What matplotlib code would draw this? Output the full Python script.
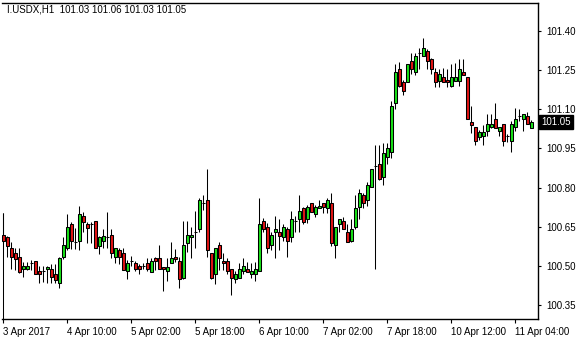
import matplotlib
matplotlib.use("Agg")
import matplotlib.pyplot as plt
from matplotlib.patches import Rectangle
from matplotlib.transforms import blended_transform_factory

# ---------------- data ----------------
opens = [100.619, 100.611, 100.569, 100.550, 100.534, 100.488, 100.488, 100.511, 100.519, 100.480,
         100.480, 100.488, 100.488, 100.469, 100.435, 100.534, 100.569, 100.661, 100.592, 100.596,
         100.691, 100.661, 100.661, 100.672, 100.576, 100.596, 100.611, 100.619, 100.534, 100.561,
         100.550, 100.480, 100.519, 100.511, 100.500, 100.500, 100.511, 100.477, 100.530, 100.530,
         100.496, 100.480, 100.511, 100.534, 100.519, 100.454, 100.588, 100.611, 100.630, 100.642,
         100.741, 100.753, 100.550, 100.469, 100.580, 100.519, 100.519, 100.488, 100.450, 100.454,
         100.480, 100.488, 100.469, 100.469, 100.480, 100.672, 100.649, 100.580, 100.630, 100.630,
         100.611, 100.642, 100.611, 100.672, 100.680, 100.722, 100.680, 100.741, 100.699, 100.722,
         100.741, 100.722, 100.741, 100.580, 100.661, 100.672, 100.630, 100.596, 100.649, 100.726,
         100.772, 100.753, 100.802, 100.883, 100.890, 100.841, 100.917, 100.936, 101.124, 101.254,
         101.205, 101.205, 101.285, 101.243, 101.316, 101.304, 101.323, 101.293, 101.243, 101.208,
         101.224, 101.212, 101.189, 101.208, 101.208, 101.243, 101.224, 101.051, 101.032, 100.994,
         100.998, 101.017, 101.032, 101.063, 101.017, 101.044, 100.998, 100.979, 101.032, 101.074,
         101.063, 101.074, 101.03]
highs = [100.703, 100.615, 100.592, 100.569, 100.569, 100.515, 100.515, 100.523, 100.519, 100.500,
         100.500, 100.500, 100.507, 100.507, 100.534, 100.611, 100.699, 100.668, 100.645, 100.730,
         100.707, 100.668, 100.668, 100.672, 100.615, 100.642, 100.707, 100.642, 100.569, 100.569,
         100.569, 100.523, 100.538, 100.519, 100.507, 100.511, 100.530, 100.530, 100.534, 100.580,
         100.496, 100.530, 100.592, 100.565, 100.534, 100.672, 100.672, 100.649, 100.711, 100.760,
         100.772, 100.871, 100.550, 100.569, 100.592, 100.550, 100.530, 100.488, 100.480, 100.511,
         100.530, 100.515, 100.511, 100.515, 100.760, 100.684, 100.665, 100.630, 100.691, 100.680,
         100.661, 100.649, 100.711, 100.691, 100.772, 100.726, 100.734, 100.741, 100.734, 100.753,
         100.741, 100.760, 100.779, 100.649, 100.680, 100.687, 100.661, 100.680, 100.772, 100.795,
         100.779, 100.822, 100.871, 100.963, 100.963, 100.971, 100.971, 101.132, 101.274, 101.281,
         101.212, 101.274, 101.316, 101.316, 101.335, 101.373, 101.331, 101.297, 101.258, 101.254,
         101.258, 101.254, 101.274, 101.277, 101.293, 101.293, 101.224, 101.113, 101.032, 101.021,
         101.040, 101.082, 101.082, 101.124, 101.032, 101.044, 101.005, 101.055, 101.105, 101.101,
         101.082, 101.090, 101.06]
lows = [100.588, 100.534, 100.488, 100.484, 100.473, 100.458, 100.484, 100.484, 100.469, 100.435,
        100.439, 100.435, 100.435, 100.435, 100.416, 100.527, 100.561, 100.565, 100.565, 100.561,
        100.630, 100.588, 100.588, 100.569, 100.546, 100.569, 100.569, 100.530, 100.511, 100.507,
        100.484, 100.450, 100.500, 100.480, 100.469, 100.488, 100.480, 100.477, 100.484, 100.488,
        100.404, 100.442, 100.511, 100.515, 100.416, 100.450, 100.553, 100.530, 100.569, 100.630,
        100.714, 100.534, 100.450, 100.431, 100.484, 100.484, 100.469, 100.389, 100.435, 100.454,
        100.469, 100.477, 100.454, 100.442, 100.480, 100.630, 100.550, 100.561, 100.530, 100.561,
        100.596, 100.534, 100.592, 100.630, 100.630, 100.661, 100.665, 100.707, 100.687, 100.722,
        100.703, 100.703, 100.576, 100.530, 100.630, 100.642, 100.592, 100.592, 100.642, 100.680,
        100.722, 100.730, 100.802, 100.488, 100.829, 100.810, 100.890, 100.913, 101.101, 101.186,
        101.155, 101.205, 101.235, 101.231, 101.254, 101.304, 101.254, 101.235, 101.186, 101.186,
        101.205, 101.186, 101.186, 101.208, 101.189, 101.231, 101.063, 101.009, 100.963, 100.982,
        100.963, 100.998, 101.028, 101.028, 100.998, 100.959, 100.975, 100.936, 101.017, 101.055,
        101.017, 101.044, 101.03]
closes = [100.596, 100.576, 100.534, 100.527, 100.477, 100.500, 100.500, 100.511, 100.469, 100.469,
          100.480, 100.496, 100.458, 100.446, 100.530, 100.580, 100.649, 100.596, 100.592, 100.699,
          100.668, 100.645, 100.661, 100.569, 100.611, 100.615, 100.611, 100.550, 100.569, 100.534,
          100.484, 100.511, 100.519, 100.488, 100.488, 100.500, 100.488, 100.519, 100.519, 100.488,
          100.488, 100.496, 100.530, 100.527, 100.450, 100.580, 100.619, 100.619, 100.630, 100.753,
          100.741, 100.561, 100.454, 100.569, 100.530, 100.511, 100.480, 100.454, 100.469, 100.488,
          100.500, 100.477, 100.480, 100.488, 100.661, 100.642, 100.569, 100.619, 100.642, 100.615,
          100.649, 100.596, 100.680, 100.672, 100.711, 100.668, 100.726, 100.707, 100.726, 100.730,
          100.726, 100.753, 100.588, 100.649, 100.680, 100.642, 100.592, 100.642, 100.722, 100.779,
          100.741, 100.810, 100.871, 100.883, 100.833, 100.933, 100.952, 101.113, 101.243, 101.189,
          101.170, 101.274, 101.254, 101.304, 101.316, 101.335, 101.285, 101.254, 101.205, 101.235,
          101.205, 101.205, 101.224, 101.224, 101.254, 101.231, 101.063, 101.040, 100.979, 101.013,
          101.013, 101.044, 101.044, 101.028, 101.032, 100.979, 100.998, 101.044, 101.063, 101.074,
          101.082, 101.044, 101.05]

time_labels = ["3 Apr 2017", "4 Apr 10:00", "5 Apr 02:00", "5 Apr 18:00", "6 Apr 10:00",
               "7 Apr 02:00", "7 Apr 18:00", "10 Apr 12:00", "11 Apr 04:00"]
price_ticks = [100.35, 100.50, 100.65, 100.80, 100.95, 101.10, 101.25, 101.40]
symbol = "I.USDX,H1"
last_price = 101.05

# ---------------- layout ----------------
W, H = 580, 340
FONT = ["Liberation Sans", "DejaVu Sans"]
plt.rcParams["font.family"] = FONT
fig = plt.figure(figsize=(W / 100, H / 100), dpi=100)
fig.patch.set_facecolor("white")

ax_left, ax_right, ax_top, ax_bottom = 2, 538, 3, 319
ax = fig.add_axes([ax_left / W, 1 - ax_bottom / H, (ax_right - ax_left) / W, (ax_bottom - ax_top) / H])
ax.set_facecolor("white")

bar_px = 4.0
first_x = 3.3
ax.set_xlim((ax_left - first_x) / bar_px, (ax_right - first_x) / bar_px)
ppu = 261.0
ax.set_ylim(101.40 - (ax_bottom - 31) / ppu, 101.40 + (31 - ax_top) / ppu)

up_col = "#19E019"
dn_col = "#E01414"
body_w = 0.62
lw = 0.75
for i, (o, h, l, c) in enumerate(zip(opens, highs, lows, closes)):
    ax.vlines(i, l, h, color="black", linewidth=lw, zorder=2)
    if abs(c - o) < 1e-9:
        ax.hlines(o, i - body_w / 2 - 0.1, i + body_w / 2 + 0.1, color="black", linewidth=lw, zorder=3)
    else:
        col = up_col if c > o else dn_col
        ax.add_patch(Rectangle((i - body_w / 2, min(o, c)), body_w, abs(c - o),
                               facecolor=col, edgecolor="black", linewidth=lw, zorder=3))

# left edge line below the first bar's high (as in the reference)
ax.vlines(0, ax.get_ylim()[0], highs[0], color="black", linewidth=lw, zorder=2)

# axes frame
for s in ["top", "right", "bottom"]:
    ax.spines[s].set_linewidth(1.0)
    ax.spines[s].set_color("black")
ax.spines["left"].set_visible(False)

# y axis on the right
ax.yaxis.tick_right()
ax.set_yticks(price_ticks)
ax.set_yticklabels([f"{v:.2f}" for v in price_ticks])
ax.tick_params(axis="y", direction="out", length=2.5, width=0.8, pad=3.5, labelsize=7, colors="black")

# x axis
ax.set_xticks([16 * k for k in range(len(time_labels))])
ax.set_xticklabels(time_labels)
ax.tick_params(axis="x", direction="out", length=3, width=0.8, pad=3.0, labelsize=7, colors="black")
for t in ax.get_xticklabels():
    t.set_ha("left")

# last price marker
tr = blended_transform_factory(ax.transAxes, ax.transData)
ax.text(1.0 + 3.5 / (ax_right - ax_left), last_price, f"{last_price:.2f}", transform=tr,
        color="white", fontsize=7, va="center", ha="left", zorder=5,
        bbox=dict(boxstyle="square,pad=0.22", facecolor="black", edgecolor="black"))

# header text
fig.text(7 / W, 1 - 10 / H, f"{symbol}  {opens[-1]:.2f} {highs[-1]:.2f} {lows[-1]:.2f} {closes[-1]:.2f}",
         fontsize=7, va="center", ha="left", color="black")

fig.savefig("out.png", dpi=100, facecolor="white")
